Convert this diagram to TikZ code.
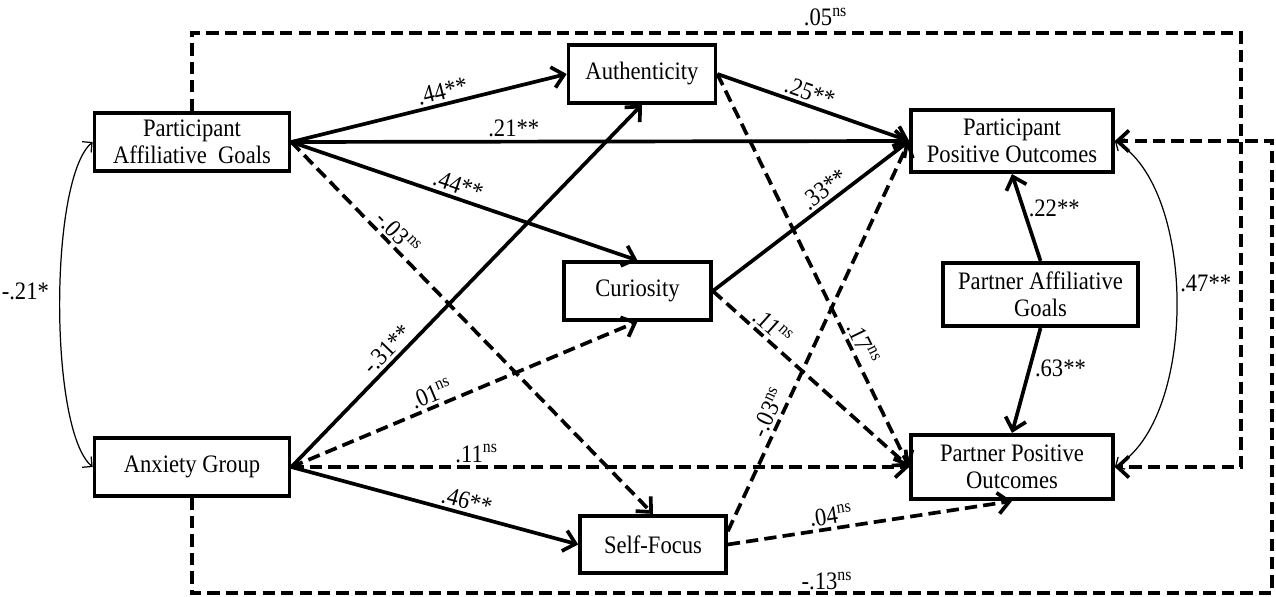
\documentclass[tikz,border=0pt]{standalone}
\usepackage{fontspec}
\setmainfont[FakeStretch=0.9]{Liberation Serif}
\usetikzlibrary{arrows.meta}
\begin{document}
\begin{tikzpicture}[x=0.02cm, y=-0.02cm,
    font=\fontsize{14.3}{15.5}\selectfont,
    box/.style={draw, line width=2.1pt, align=center, inner sep=2pt},
    sig/.style={line width=2.1pt, -{Straight Barb[length=6.5pt,width=12pt]}},
    nsig/.style={sig, dash pattern=on 7pt off 3.5pt},
    corr/.style={line width=0.7pt, {Straight Barb[length=4pt,width=8pt]}-{Straight Barb[length=4pt,width=8pt]}},
    lbl/.style={sloped, above, inner sep=1.5pt}]
    \useasboundingbox (0,0) rectangle (1276,597);

    % variables
    \node[box, minimum width=3.9cm, minimum height=1.17cm] (pag) at (192,142) {Participant\\Affiliative\ \ Goals};
    \node[box, minimum width=3.9cm, minimum height=1.15cm] (ag) at (192,467) {Anxiety Group};
    \node[box, minimum width=2.94cm, minimum height=1.15cm] (auth) at (642,74) {Authenticity};
    \node[box, minimum width=2.94cm, minimum height=1.15cm] (cur) at (637.5,291) {Curiosity};
    \node[box, minimum width=2.92cm, minimum height=1.15cm] (sf) at (653,544.5) {Self-Focus};
    \node[box, minimum width=4.04cm, minimum height=1.25cm] (ppo) at (1012,141) {Participant\\Positive\ Outcomes};
    \node[box, minimum width=3.9cm, minimum height=1.27cm] (paag) at (1040.5,294.5) {Partner Affiliative\\Goals};
    \node[box, minimum width=4.04cm, minimum height=1.29cm] (ptpo) at (1012,467) {Partner Positive\\Outcomes};

    \coordinate (tr) at (1241,33);
    \coordinate (br) at (1272,593);

    % paths from participant goals
    \draw[sig] (pag.east) -- node[lbl, pos=0.56] {.44**} (auth.west);
    \draw[sig] (pag.east) -- node[lbl, pos=0.36] {.21**} (ppo.west);
    \draw[sig] (pag.east) -- node[lbl, pos=0.47] {.44**} (cur.north);
    \draw[nsig] (pag.east) -- node[lbl, pos=0.27] {-.03\textsuperscript{ns}} (sf.north);

    % paths from anxiety group
    \draw[sig] (ag.east) -- node[lbl, pos=0.3] {-.31**} (auth.south);
    \draw[nsig] (ag.east) -- node[lbl, pos=0.42] {.01\textsuperscript{ns}} (cur.south);
    \draw[nsig] (ag.east) -- node[lbl, pos=0.3] {.11\textsuperscript{ns}} (ptpo.west);
    \draw[sig] (ag.east) -- node[lbl, pos=0.6] {.46**} (sf.west);

    % mediators to outcomes
    \draw[sig] (auth.east) -- node[lbl, pos=0.46] {.25**} (ppo.west);
    \draw[nsig] (auth.east) -- node[lbl, pos=0.7] {.17\textsuperscript{ns}} (ptpo.west);
    \draw[sig] (cur.east) -- node[lbl, pos=0.61] {.33**} (ppo.west);
    \draw[nsig] (cur.east) -- node[lbl, pos=0.26] {.11\textsuperscript{ns}} (ptpo.west);
    \draw[nsig] (sf.10) -- node[lbl, pos=0.29] {-.03\textsuperscript{ns}} (ppo.west);
    \draw[nsig] (sf.east) -- node[lbl, pos=0.37] {.04\textsuperscript{ns}} (ptpo.south);

    % partner goals
    \draw[sig] (paag.north) -- node[right, pos=0.6, inner sep=2pt] {.22**} (ppo.south);
    \draw[sig] (paag.south) -- node[right, pos=0.38, inner sep=2pt] {.63**} (ptpo.north);

    % direct paths round the outside
    \draw[nsig] (pag.north) |- node[above, pos=0.802, inner sep=3pt] {.05\textsuperscript{ns}} (tr) |- (ptpo.east);
    \draw[nsig] (ag.south) |- node[above, pos=0.794, inner sep=0.5pt] {-.13\textsuperscript{ns}} (br) |- (ppo.east);

    % correlations
    \draw[corr] (pag.west) to[bend right=50, looseness=0.45] node[left, pos=0.47, inner sep=6pt] {-.21*} (ag.west);
    \draw[corr] (ppo.east) to[bend left=60, looseness=0.75] node[right, pos=0.45, inner sep=2pt] {.47**} (ptpo.east);
\end{tikzpicture}
\end{document}
